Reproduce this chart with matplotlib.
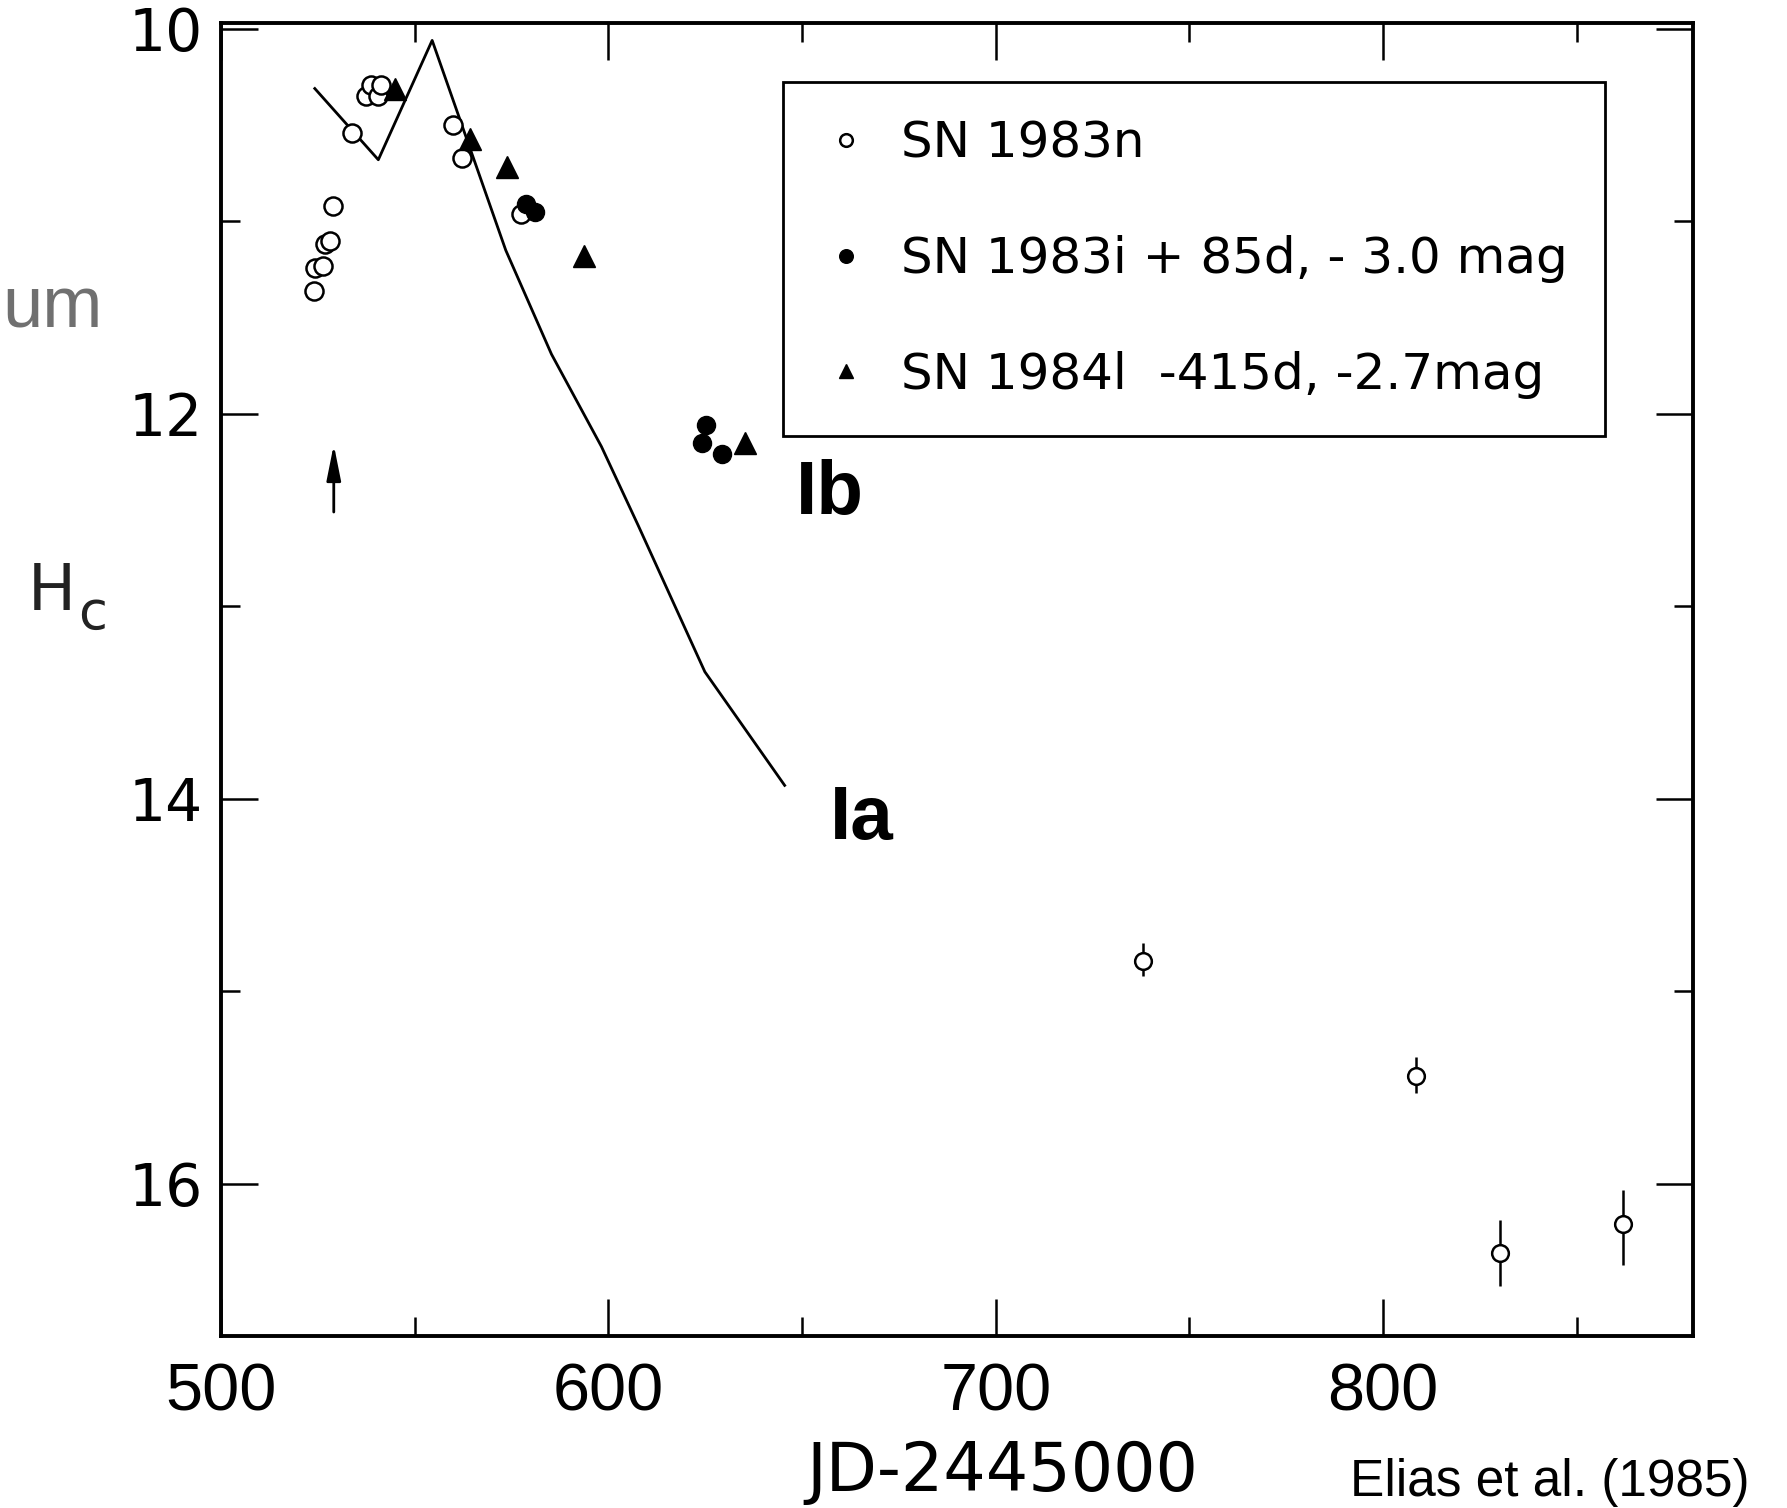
import matplotlib.pyplot as plt
from matplotlib.lines import Line2D

# SN 1983n, open circles (no error bars)
n83_x = [524.0, 524.2, 526.4, 526.8, 528.1, 528.9, 533.7, 537.5, 538.8, 540.6, 541.4, 559.9, 562.1, 577.5]
n83_y = [11.36, 11.24, 11.23, 11.12, 11.10, 10.92, 10.54, 10.35, 10.29, 10.35, 10.29, 10.50, 10.67, 10.96]
# SN 1983n late points with error bars
n83e_x = [738.1, 808.5, 830.3, 861.9]
n83e_y = [14.84, 15.44, 16.36, 16.21]
n83e_lo = [0.09, 0.10, 0.17, 0.18]
n83e_hi = [0.08, 0.09, 0.17, 0.21]
# SN 1983i +85d, -3.0 mag
i83_x = [578.8, 581.0, 624.2, 625.3, 629.2]
i83_y = [10.91, 10.95, 12.15, 12.06, 12.21]
# SN 1984l -415d, -2.7 mag
l84_x = [544.9, 564.2, 573.7, 593.7, 635.2]
l84_y = [10.31, 10.57, 10.72, 11.18, 12.15]
# type Ia template curve
ia_x = [524.2, 540.6, 554.5, 573.5, 585.3, 598.2, 607.7, 624.9, 645.5]
ia_y = [10.31, 10.68, 10.06, 11.15, 11.69, 12.17, 12.58, 13.34, 13.93]

labels = ['SN 1983n', 'SN 1983i + 85d, - 3.0 mag', 'SN 1984l  -415d, -2.7mag']
arrow_x = 529.1
arrow_y = (12.51, 12.16)

plt.rcParams['font.family'] = ['DejaVu Sans']

fig = plt.figure(figsize=(17.87, 15.08), dpi=100)
ax = fig.add_axes([0.1237, 0.1141, 0.8237, 0.8706])

ax.plot(ia_x, ia_y, color='k', lw=2.0, zorder=2)
ax.plot(n83_x, n83_y, 'o', ms=13, mfc='white', mec='k', mew=1.8, ls='none', zorder=3)
ax.errorbar(n83e_x, n83e_y, yerr=[n83e_lo, n83e_hi], fmt='o', ms=12, mfc='white', mec='k',
            mew=1.8, ecolor='k', elinewidth=1.8, capsize=0, zorder=3)
ax.plot(i83_x, i83_y, 'o', ms=13, color='k', ls='none', zorder=4)
ax.plot(l84_x, l84_y, '^', ms=15.5, color='k', ls='none', zorder=4)

ax.annotate('', xy=(arrow_x, arrow_y[1]), xytext=(arrow_x, arrow_y[0]),
            arrowprops=dict(arrowstyle='-|>,head_length=0.6,head_width=0.12', color='k',
                            lw=2, mutation_scale=36, shrinkA=0, shrinkB=0))

ax.set_xlim(500, 880)
ax.set_ylim(16.79, 9.97)
ax.set_xticks([500, 600, 700, 800])
ax.set_xticks([550, 650, 750, 850], minor=True)
ax.set_yticks([10, 12, 14, 16])
ax.set_yticks([11, 13, 15], minor=True)
ax.tick_params(which='both', direction='in', top=True, right=True, width=1.8, color='k')
ax.tick_params(which='major', length=26.5)
ax.tick_params(which='minor', length=13.5)
ax.tick_params(axis='x', which='major', pad=19, labelsize=48)
ax.tick_params(axis='y', which='major', pad=13, labelsize=42)
for lab in ax.get_xticklabels():
    lab.set_family('Liberation Sans')
for sp in ax.spines.values():
    sp.set_linewidth(2.8)

handles = [
    Line2D([], [], marker='o', ls='none', ms=13, mfc='white', mec='k', mew=1.8),
    Line2D([], [], marker='o', ls='none', ms=14, color='k'),
    Line2D([], [], marker='^', ls='none', ms=15, color='k'),
]
leg = ax.legend(handles, labels, loc='upper left', bbox_to_anchor=(0.382, 0.955),
                borderaxespad=0, fontsize=36, handlelength=1.0, handletextpad=0.6,
                labelspacing=1.35, borderpad=0.75, markerscale=0.7,
                fancybox=False, framealpha=1, edgecolor='k')
leg.get_frame().set_linewidth(2.0)

ax.text(648.3, 12.52, 'Ib', fontsize=55, fontweight='bold', family='Liberation Sans', va='baseline')
ax.text(657.3, 14.21, 'Ia', fontsize=55, fontweight='bold', family='Liberation Sans', va='baseline')

fig.text(0.561, 0.011, 'JD-2445000', fontsize=48, ha='center', va='baseline')
fig.text(0.979, 0.008, 'Elias et al. (1985)', fontsize=37, family='Liberation Sans', ha='right', va='baseline')
fig.text(0.001, 0.7825, 'um', fontsize=52, family='Liberation Sans', color='#707070', ha='left', va='baseline')
fig.text(0.0157, 0.5955, 'H', fontsize=46, ha='left', va='baseline', color='#222222')
fig.text(0.0435, 0.583, 'c', fontsize=38, ha='left', va='baseline', color='#222222')

fig.savefig('out.png', dpi=100)
